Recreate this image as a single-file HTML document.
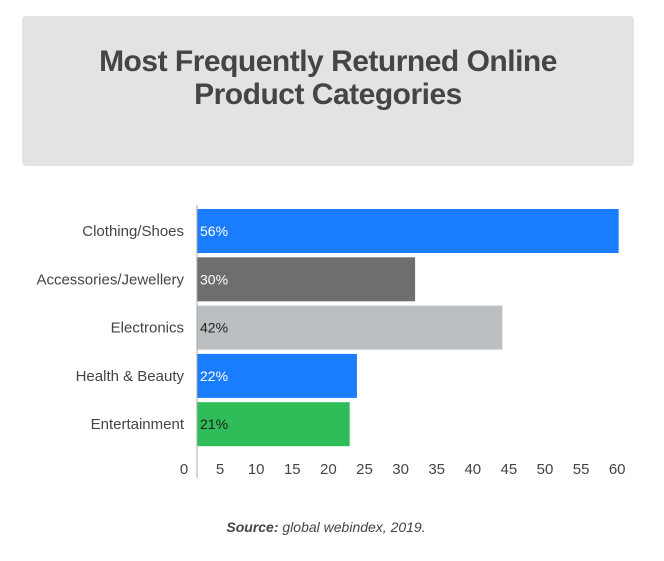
<!DOCTYPE html>
<html><head><meta charset="utf-8"><style>
body{margin:0;width:664px;height:556px;background:#fff;font-family:"Liberation Sans",sans-serif;overflow:hidden}
</style></head><body>
<svg width="664" height="556" xmlns="http://www.w3.org/2000/svg">
<rect x="22" y="16" width="612" height="150" rx="4" fill="#e3e3e3"/>
<text x="328" y="71" text-anchor="middle" font-family="Liberation Sans, sans-serif" font-weight="bold" font-size="30" fill="#454545" letter-spacing="-0.5">Most Frequently Returned Online</text>
<text x="328" y="104" text-anchor="middle" font-family="Liberation Sans, sans-serif" font-weight="bold" font-size="30" fill="#454545" letter-spacing="-0.5">Product Categories</text>
<g id="bars"></g>
<line x1="197" y1="205" x2="197" y2="478" stroke="#aaa" stroke-width="1"/>
<g id="ticks"></g>
<text x="326" y="532" text-anchor="middle" font-size="14" font-style="italic" fill="#444"><tspan font-weight="bold">Source:</tspan> global webindex, 2019.</text>
</svg>
<script>
const categories=["Clothing/Shoes","Accessories/Jewellery","Electronics","Health & Beauty","Entertainment"];
const values=[58,30,42,22,21];
const valueLabels=["56%","30%","42%","22%","21%"];
const tickValues=[0,5,10,15,20,25,30,35,40,45,50,55,60];
const colors=["#1a7dff","#6d6e70","#bcbfc1","#1a7dff","#2fbd5a"];
const textColors=["#fff","#fff","#222","#fff","#222"];
const NS="http://www.w3.org/2000/svg";
function x(v){return 197+v*7.27;}
function tickX(v){return 184+v*7.22;}
function y(i){return 209+i*48.3;}
const bars=document.getElementById('bars');
categories.forEach((c,i)=>{
  const r=document.createElementNS(NS,'rect');
  
  
  r.setAttribute('x',x(0));r.setAttribute('y',y(i));
  r.setAttribute('width',x(values[i])-x(0));r.setAttribute('height',44);
  r.setAttribute('fill',colors[i]);bars.appendChild(r);
  const l=document.createElementNS(NS,'text');
  
  
  l.setAttribute('x',184);l.setAttribute('y',y(i)+27);
  l.setAttribute('text-anchor','end');l.setAttribute('font-size','15');l.setAttribute('fill','#444');
  l.textContent=c;bars.appendChild(l);
  const v=document.createElementNS(NS,'text');
  
  
  v.setAttribute('x',x(0)+3);v.setAttribute('y',y(i)+27);
  v.setAttribute('font-size','14');v.setAttribute('fill',textColors[i]);
  v.textContent=valueLabels[i];bars.appendChild(v);
});
const ticks=document.getElementById('ticks');
tickValues.forEach(t=>{
  const e=document.createElementNS(NS,'text');
  
  
  e.setAttribute('x',tickX(t));e.setAttribute('y',474);
  e.setAttribute('text-anchor','middle');e.setAttribute('font-size','15');e.setAttribute('fill','#444');
  e.textContent=t;ticks.appendChild(e);
});
</script>
</body></html>
